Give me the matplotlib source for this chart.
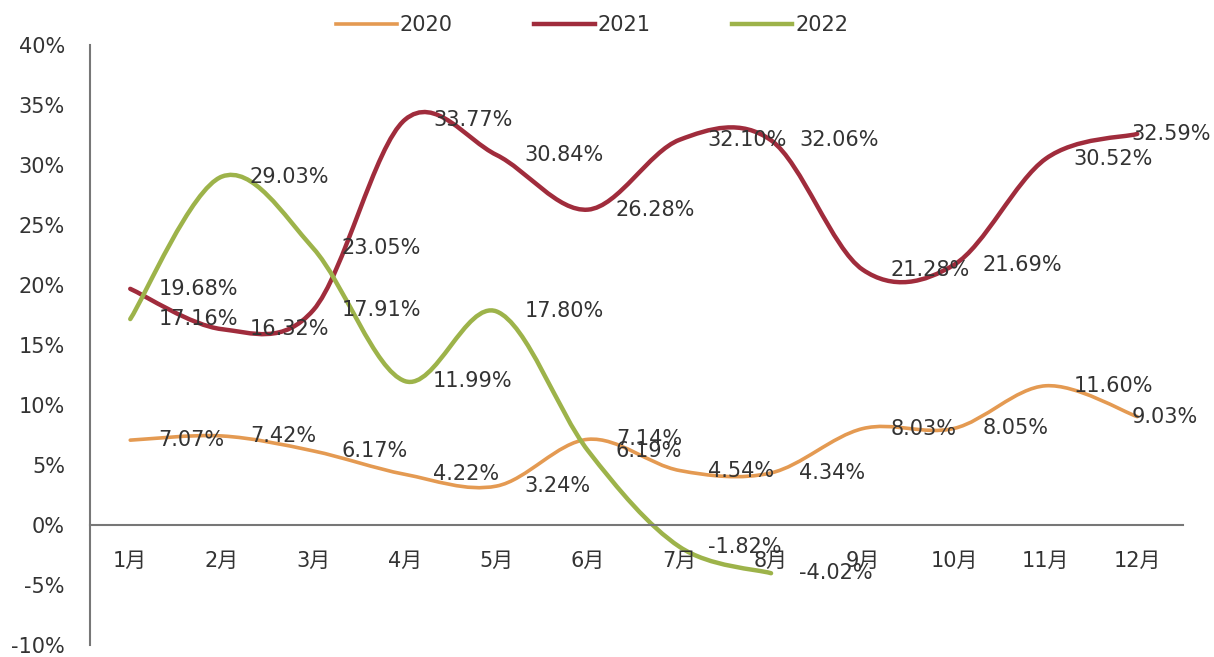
import matplotlib
matplotlib.use("Agg")
import matplotlib.pyplot as plt
from matplotlib.path import Path
from matplotlib.patches import PathPatch
from matplotlib.lines import Line2D

plt.rcParams['font.family'] = ['DejaVu Sans', 'Noto Sans CJK SC']

months = ["1月", "2月", "3月", "4月", "5月", "6月",
          "7月", "8月", "9月", "10月", "11月", "12月"]

y2020 = [7.07, 7.42, 6.17, 4.22, 3.24, 7.14, 4.54, 4.34, 8.03, 8.05, 11.60, 9.03]
y2021 = [19.68, 16.32, 17.91, 33.77, 30.84, 26.28, 32.10, 32.06, 21.28, 21.69, 30.52, 32.59]
y2022 = [17.16, 29.03, 23.05, 11.99, 17.80, 6.19, -1.82, -4.02]

series = [
    ("2020", y2020, "#E49A52", 2.6),
    ("2021", y2021, "#A02C3C", 3.2),
    ("2022", y2022, "#9DB34A", 3.2),
]

yticks = [-10, -5, 0, 5, 10, 15, 20, 25, 30, 35, 40]


def smooth_path(xs, ys):
    # Catmull-Rom style smoothing like Excel's "smoothed line"
    pts = list(zip(xs, ys))
    verts = [pts[0]]
    codes = [Path.MOVETO]
    for i in range(len(pts) - 1):
        p0 = pts[i - 1] if i > 0 else pts[i]
        p1 = pts[i]
        p2 = pts[i + 1]
        p3 = pts[i + 2] if i + 2 < len(pts) else p2
        c1 = (p1[0] + (p2[0] - p0[0]) / 6, p1[1] + (p2[1] - p0[1]) / 6)
        c2 = (p2[0] - (p3[0] - p1[0]) / 6, p2[1] - (p3[1] - p1[1]) / 6)
        verts += [c1, c2, p2]
        codes += [Path.CURVE4] * 3
    return Path(verts, codes)


fig = plt.figure(figsize=(12.14, 6.57), dpi=100)
ax = fig.add_axes([0.0741, 0.0183, 0.9004, 0.9132])

handles = []
for name, vals, color, lw in series:
    xs = list(range(len(vals)))
    ax.add_patch(PathPatch(smooth_path(xs, vals), facecolor="none",
                           edgecolor=color, lw=lw, capstyle="round"))
    handles.append(Line2D([], [], color=color, lw=lw, label=name))

for name, vals, color, lw in series:
    for i, v in enumerate(vals):
        # last month's labels are pulled back so they stay inside the figure
        dx = 28 if i < len(months) - 1 else -6
        ax.annotate(f"{v:.2f}%", (i, v), xytext=(dx, 0), textcoords="offset pixels",
                    ha="left", va="center", fontsize=15, color="#333333", zorder=5)

ax.set_xlim(-0.44, 11.5)
ax.set_ylim(-10, 40)
ax.set_xticks(range(len(months)))
ax.set_xticklabels(months)
ax.set_yticks(yticks)
ax.set_yticklabels([f"{t}%" for t in yticks])
ax.tick_params(axis="x", length=0, pad=19, labelsize=15, labelcolor="#333333")
ax.tick_params(axis="y", length=0, pad=18, labelsize=15, labelcolor="#333333")

for s in ["top", "right"]:
    ax.spines[s].set_visible(False)
ax.spines["bottom"].set_position(("data", 0))
ax.spines["bottom"].set_color("#777777")
ax.spines["bottom"].set_linewidth(1.5)
ax.spines["left"].set_color("#777777")
ax.spines["left"].set_linewidth(1.5)

fig.legend(handles=handles, loc="center", bbox_to_anchor=(0.488, 1 - 25 / 657),
           ncol=3, frameon=False, fontsize=15, handlelength=2.9,
           handletextpad=0.15, columnspacing=3.9, labelcolor="#333333")

fig.savefig("out.png", dpi=100)
